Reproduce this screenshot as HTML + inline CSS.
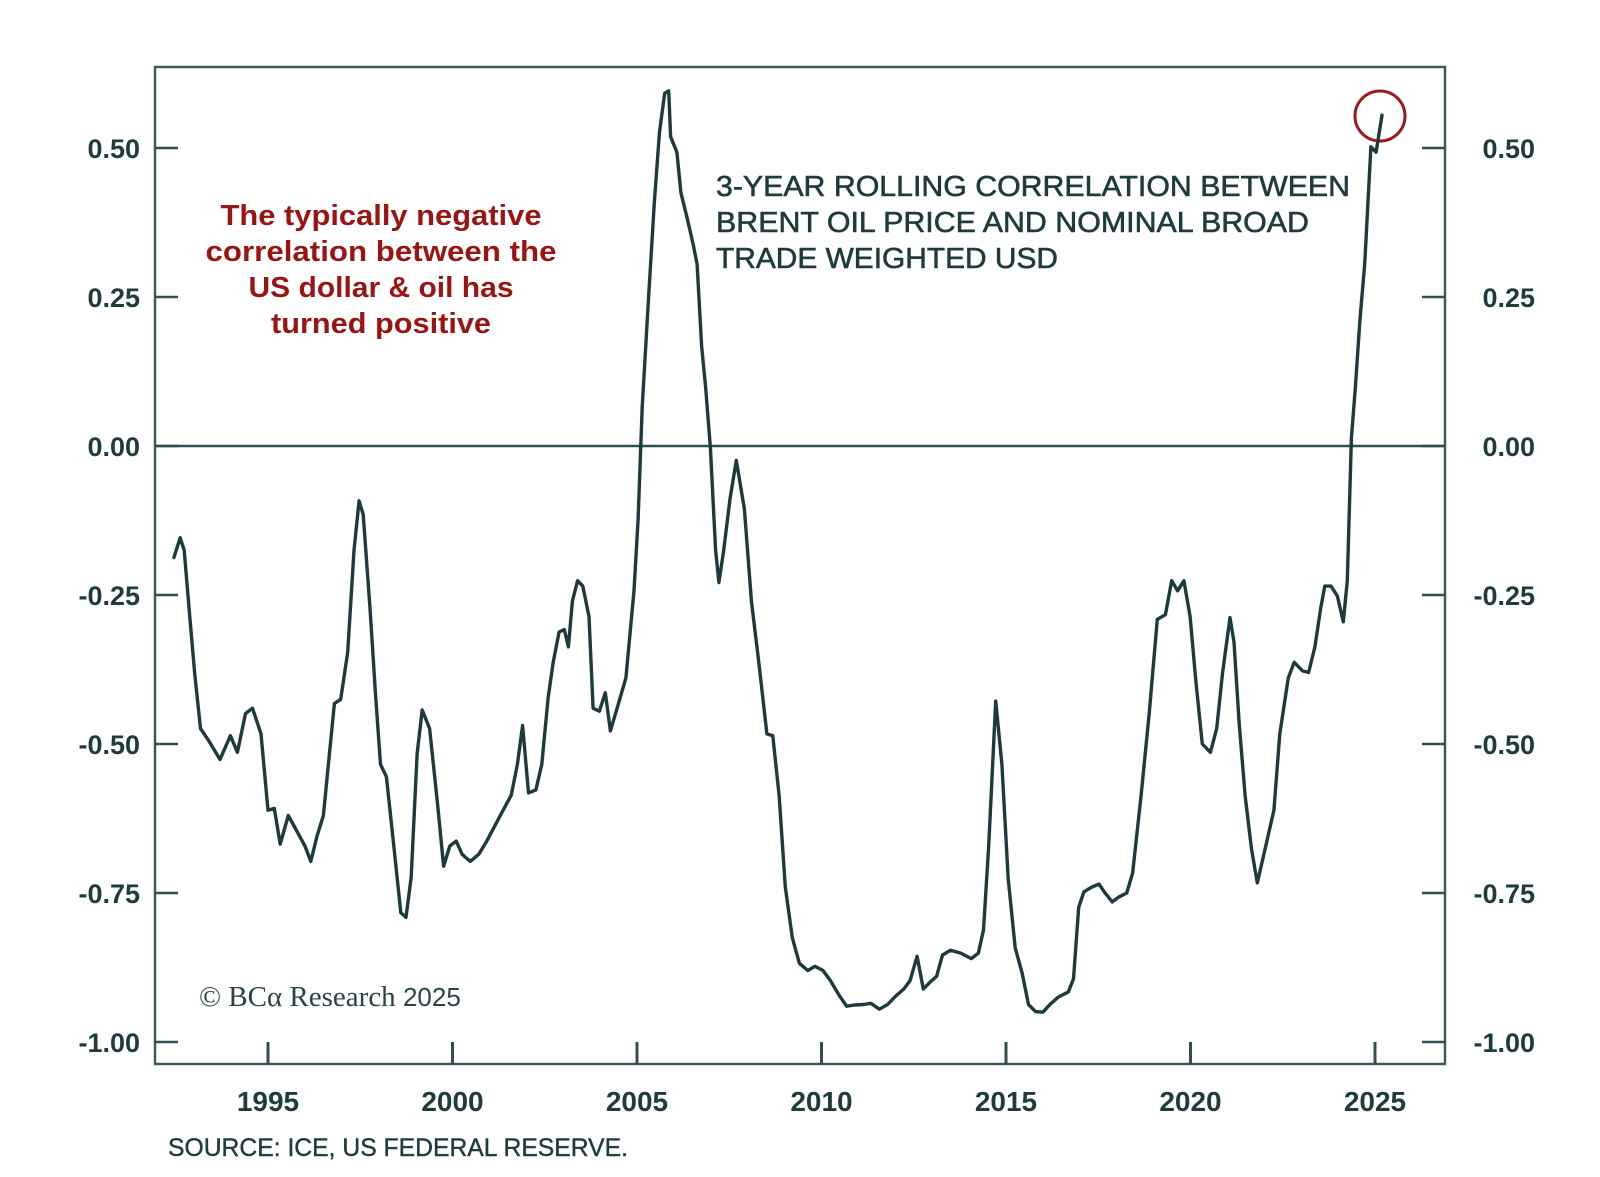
<!DOCTYPE html>
<html><head><meta charset="utf-8"><style>
html,body{margin:0;padding:0;background:#fff;}
svg text{font-family:"Liberation Sans",sans-serif;}
</style></head><body>
<svg id="chart" width="1600" height="1172" viewBox="0 0 1600 1172" xmlns="http://www.w3.org/2000/svg">
<rect x="155" y="67" width="1290" height="997" fill="none" stroke="#3b5a5c" stroke-width="2.5"/>
<g id="axes"></g>
<text x="381" y="225" font-size="29" font-weight="bold" fill="#9b1414" text-anchor="middle" textLength="321" lengthAdjust="spacingAndGlyphs">The typically negative</text>
<text x="381" y="261" font-size="29" font-weight="bold" fill="#9b1414" text-anchor="middle" textLength="351" lengthAdjust="spacingAndGlyphs">correlation between the</text>
<text x="381" y="297" font-size="29" font-weight="bold" fill="#9b1414" text-anchor="middle" textLength="265" lengthAdjust="spacingAndGlyphs">US dollar &amp; oil has</text>
<text x="381" y="333" font-size="29" font-weight="bold" fill="#9b1414" text-anchor="middle" textLength="220" lengthAdjust="spacingAndGlyphs">turned positive</text>
<text x="716" y="196" font-size="29" fill="#1e3b3d" stroke="#1e3b3d" stroke-width="0.6" textLength="634" lengthAdjust="spacingAndGlyphs">3-YEAR ROLLING CORRELATION BETWEEN</text>
<text x="716" y="232" font-size="29" fill="#1e3b3d" stroke="#1e3b3d" stroke-width="0.6" textLength="593" lengthAdjust="spacingAndGlyphs">BRENT OIL PRICE AND NOMINAL BROAD</text>
<text x="716" y="268" font-size="29" fill="#1e3b3d" stroke="#1e3b3d" stroke-width="0.6" textLength="342" lengthAdjust="spacingAndGlyphs">TRADE WEIGHTED USD</text>
<text x="199" y="1006" font-size="29" fill="#2a4446" style="font-family:'Liberation Serif',serif">© BCα Research <tspan font-size="26" style="font-family:'Liberation Sans',sans-serif">2025</tspan></text>
<text x="168" y="1156" font-size="25" fill="#1e3b3d" stroke="#1e3b3d" stroke-width="0.4" textLength="460" lengthAdjust="spacingAndGlyphs">SOURCE: ICE, US FEDERAL RESERVE.</text>
<circle cx="1380" cy="116" r="25" fill="none" stroke="#a01818" stroke-width="3"/>
</svg>
<script>
const years=[1992.45,1992.62,1992.73,1992.87,1993.01,1993.17,1993.42,1993.70,1993.98,1994.17,1994.39,1994.58,1994.81,1995.00,1995.17,1995.33,1995.55,1995.78,1996.00,1996.16,1996.33,1996.50,1996.61,1996.80,1996.97,1997.16,1997.33,1997.47,1997.58,1997.77,1997.91,1998.05,1998.21,1998.41,1998.60,1998.74,1998.88,1999.04,1999.18,1999.38,1999.60,1999.76,1999.93,2000.10,2000.26,2000.48,2000.71,2000.93,2001.15,2001.37,2001.59,2001.76,2001.90,2002.06,2002.26,2002.42,2002.59,2002.73,2002.89,2003.03,2003.14,2003.25,2003.39,2003.53,2003.70,2003.81,2003.98,2004.14,2004.28,2004.50,2004.70,2004.92,2005.03,2005.14,2005.30,2005.47,2005.61,2005.75,2005.86,2005.91,2006.08,2006.19,2006.36,2006.52,2006.63,2006.75,2006.86,2006.99,2007.13,2007.22,2007.35,2007.52,2007.69,2007.91,2008.10,2008.30,2008.52,2008.68,2008.85,2009.02,2009.21,2009.40,2009.63,2009.82,2010.04,2010.24,2010.46,2010.68,2010.90,2011.15,2011.34,2011.57,2011.79,2012.01,2012.23,2012.40,2012.59,2012.76,2012.95,2013.12,2013.28,2013.50,2013.78,2014.06,2014.25,2014.39,2014.53,2014.72,2014.89,2015.06,2015.25,2015.44,2015.61,2015.80,2016.00,2016.19,2016.41,2016.69,2016.83,2016.97,2017.11,2017.33,2017.52,2017.66,2017.88,2018.05,2018.27,2018.43,2018.66,2018.88,2019.10,2019.32,2019.49,2019.65,2019.82,2019.99,2020.15,2020.32,2020.54,2020.71,2020.87,2021.07,2021.18,2021.32,2021.48,2021.65,2021.81,2022.04,2022.26,2022.42,2022.65,2022.81,2023.03,2023.20,2023.37,2023.53,2023.64,2023.81,2023.98,2024.14,2024.25,2024.36,2024.47,2024.59,2024.72,2024.89,2025.03,2025.19];
const correlation=[-0.187,-0.154,-0.175,-0.279,-0.380,-0.474,-0.497,-0.526,-0.486,-0.514,-0.449,-0.440,-0.483,-0.611,-0.608,-0.668,-0.620,-0.646,-0.671,-0.697,-0.654,-0.620,-0.551,-0.432,-0.425,-0.346,-0.175,-0.092,-0.115,-0.277,-0.414,-0.534,-0.555,-0.671,-0.783,-0.791,-0.723,-0.517,-0.443,-0.474,-0.603,-0.705,-0.671,-0.663,-0.685,-0.697,-0.685,-0.663,-0.637,-0.611,-0.586,-0.534,-0.469,-0.582,-0.577,-0.534,-0.423,-0.363,-0.312,-0.308,-0.337,-0.260,-0.226,-0.235,-0.286,-0.440,-0.445,-0.414,-0.478,-0.432,-0.389,-0.243,-0.123,0.065,0.236,0.408,0.527,0.592,0.596,0.519,0.493,0.425,0.382,0.339,0.305,0.168,0.099,-0.003,-0.175,-0.229,-0.175,-0.089,-0.024,-0.106,-0.260,-0.363,-0.483,-0.486,-0.586,-0.740,-0.825,-0.868,-0.880,-0.873,-0.880,-0.897,-0.920,-0.940,-0.938,-0.937,-0.935,-0.945,-0.937,-0.923,-0.911,-0.897,-0.856,-0.911,-0.899,-0.890,-0.854,-0.846,-0.851,-0.860,-0.851,-0.812,-0.671,-0.428,-0.534,-0.726,-0.842,-0.885,-0.937,-0.949,-0.950,-0.937,-0.925,-0.916,-0.894,-0.774,-0.748,-0.740,-0.735,-0.748,-0.765,-0.757,-0.750,-0.717,-0.586,-0.449,-0.291,-0.283,-0.226,-0.243,-0.226,-0.286,-0.397,-0.500,-0.514,-0.474,-0.380,-0.288,-0.329,-0.466,-0.586,-0.675,-0.733,-0.671,-0.611,-0.483,-0.389,-0.363,-0.377,-0.380,-0.337,-0.271,-0.235,-0.235,-0.252,-0.295,-0.226,0.014,0.099,0.211,0.305,0.502,0.493,0.555];
const yTicks=[0.5,0.25,0,-0.25,-0.5,-0.75,-1.0];
const yTickLabels=["0.50","0.25","0.00","-0.25","-0.50","-0.75","-1.00"];
const xTicks=[1995,2000,2005,2010,2015,2020,2025];
const xTickLabels=["1995","2000","2005","2010","2015","2020","2025"];

const NS="http://www.w3.org/2000/svg";
const L=155,R=1445,T=67,B=1064;
function xs(yr){return 268+(yr-1995)*36.9;}
function ys(v){return 446-v*596;}
const svg=document.getElementById('chart');
const g=document.getElementById('axes');
const col="#1e3b3d";
function mk(tag,attrs){const e=document.createElementNS(NS,tag);for(const k in attrs)e.setAttribute(k,attrs[k]);return e;}
yTicks.forEach((v,i)=>{
  const y=ys(v);
  const t1=mk('line',{x1:L,x2:L+23,y1:y,y2:y,stroke:"#2e4f51","stroke-width":2.5});
  
  
  g.appendChild(t1);
  const t2=mk('line',{x1:R-23,x2:R,y1:y,y2:y,stroke:"#2e4f51","stroke-width":2.5});
  
  
  g.appendChild(t2);
  const a=mk('text',{x:140,y:y+10,"font-size":27,"font-weight":"bold",fill:col,"text-anchor":"end"});
  a.textContent=yTickLabels[i];
  
  
  g.appendChild(a);
  const b=mk('text',{x:1535,y:y+10,"font-size":27,"font-weight":"bold",fill:col,"text-anchor":"end"});
  b.textContent=yTickLabels[i];
  
  
  g.appendChild(b);
});
const zl=mk('line',{x1:L,x2:R,y1:ys(0),y2:ys(0),stroke:"#2e4f51","stroke-width":2.5});


g.appendChild(zl);
xTicks.forEach((yr,i)=>{
  const x=xs(yr);
  const t=mk('line',{x1:x,x2:x,y1:B,y2:B-22,stroke:"#2e4f51","stroke-width":3});
  
  
  g.appendChild(t);
  const a=mk('text',{x:x,y:1111,"font-size":28,"font-weight":"bold",fill:col,"text-anchor":"middle"});
  a.textContent=xTickLabels[i];
  
  
  g.appendChild(a);
});
let d="";
years.forEach((yr,i)=>{d+=(i?"L":"M")+xs(yr).toFixed(1)+","+ys(correlation[i]).toFixed(1);});
const p=mk('path',{d:d,fill:"none",stroke:"#1d3a3c","stroke-width":3.4,"stroke-linejoin":"round","stroke-linecap":"round"});


svg.appendChild(p);
</script>
</body></html>
